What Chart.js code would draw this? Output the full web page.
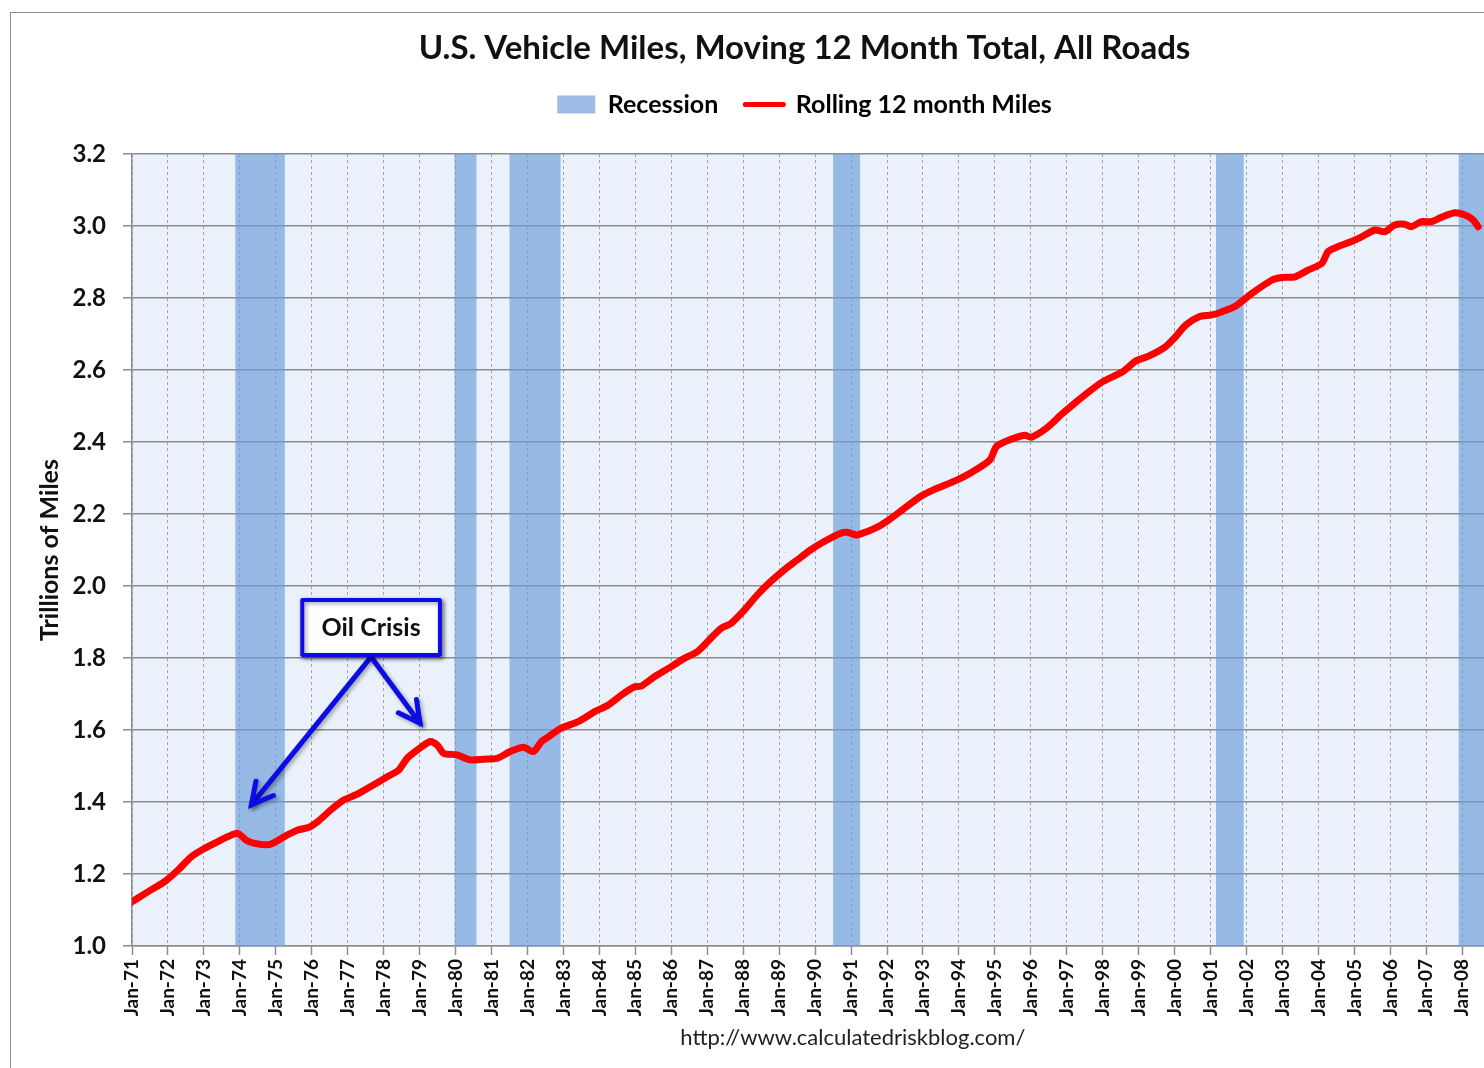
<!DOCTYPE html>
<html><head><meta charset="utf-8">
<script src="https://cdn.jsdelivr.net/npm/chart.js@4.4.1/dist/chart.umd.min.js"></script>
<style>
html,body{margin:0;padding:0;background:#fff;overflow:hidden;width:1484px;height:1068px;}
#frame{position:absolute;left:10px;top:12px;width:1586px;height:1056px;border-left:1px solid #8c8c8c;border-top:1px solid #8c8c8c;}
#c{display:block;}
</style></head><body>
<div id="frame"><canvas id="c" width="1586" height="1056"></canvas></div>
<script>
// ---------- DATA ----------
const chartTitle = 'U.S. Vehicle Miles, Moving 12 Month Total, All Roads';
const seriesNames = ['Recession', 'Rolling 12 month Miles'];
const sourceText = 'http://www.calculatedriskblog.com/';
const yAxisTitle = 'Trillions of Miles';
const yTickValues = [1.0, 1.2, 1.4, 1.6, 1.8, 2.0, 2.2, 2.4, 2.6, 2.8, 3.0, 3.2];
const xTickYears = [1971,1972,1973,1974,1975,1976,1977,1978,1979,1980,1981,1982,1983,1984,1985,1986,1987,1988,1989,1990,1991,1992,1993,1994,1995,1996,1997,1998,1999,2000,2001,2002,2003,2004,2005,2006,2007,2008,2009,2010,2011];
const xTickLabels = ['Jan-71','Jan-72','Jan-73','Jan-74','Jan-75','Jan-76','Jan-77','Jan-78','Jan-79','Jan-80','Jan-81','Jan-82','Jan-83','Jan-84','Jan-85','Jan-86','Jan-87','Jan-88','Jan-89','Jan-90','Jan-91','Jan-92','Jan-93','Jan-94','Jan-95','Jan-96','Jan-97','Jan-98','Jan-99','Jan-00','Jan-01','Jan-02','Jan-03','Jan-04','Jan-05','Jan-06','Jan-07','Jan-08','Jan-09','Jan-10','Jan-11'];

// recession periods (decimal years)
const recessionStart = [1973.87, 1979.97, 1981.50, 1990.50, 2001.15, 2007.90];
const recessionEnd   = [1975.25, 1980.58, 1982.92, 1991.25, 2001.92, 2009.50];

// rolling 12 month vehicle miles (trillions)
const milesYears = [1971.00,1971.45,1971.91,1972.28,1972.65,1973.02,1973.39,1973.67,1973.94,1974.18,1974.41,1974.78,1974.91,1975.24,1975.61,1975.93,1976.16,1976.53,1976.90,1977.27,1977.64,1978.10,1978.42,1978.65,1978.93,1979.30,1979.49,1979.67,1980.04,1980.41,1980.78,1981.15,1981.52,1981.89,1982.16,1982.39,1982.58,1982.94,1983.41,1983.87,1984.24,1984.61,1984.98,1985.16,1985.53,1986.00,1986.36,1986.73,1987.10,1987.38,1987.66,1988.03,1988.39,1988.76,1989.13,1989.50,1989.87,1990.24,1990.70,1990.89,1991.17,1991.44,1991.81,1992.00,1992.37,1992.92,1993.29,1993.94,1994.31,1994.86,1995.04,1995.41,1995.83,1996.01,1996.43,1996.89,1997.44,1997.99,1998.55,1998.92,1999.29,1999.75,2000.03,2000.31,2000.68,2001.04,2001.32,2001.70,2002.15,2002.71,2002.98,2003.35,2003.72,2004.09,2004.27,2004.55,2004.92,2005.20,2005.57,2005.84,2006.12,2006.40,2006.58,2006.86,2007.14,2007.41,2007.79,2008.06,2008.30,2008.44];
const milesValues = [1.123,1.151,1.179,1.211,1.248,1.271,1.290,1.304,1.313,1.294,1.285,1.281,1.285,1.304,1.322,1.330,1.345,1.378,1.406,1.422,1.443,1.470,1.489,1.521,1.544,1.568,1.558,1.535,1.531,1.517,1.519,1.521,1.540,1.552,1.540,1.568,1.581,1.605,1.623,1.651,1.669,1.697,1.720,1.722,1.748,1.776,1.799,1.818,1.855,1.882,1.896,1.933,1.975,2.012,2.044,2.072,2.100,2.123,2.146,2.149,2.142,2.151,2.168,2.180,2.207,2.248,2.267,2.294,2.313,2.350,2.387,2.406,2.419,2.413,2.438,2.480,2.526,2.567,2.595,2.625,2.639,2.665,2.693,2.725,2.748,2.753,2.762,2.778,2.813,2.850,2.857,2.859,2.878,2.896,2.929,2.943,2.957,2.970,2.989,2.984,3.003,3.005,2.998,3.012,3.012,3.024,3.037,3.031,3.017,2.998];

// annotation (data coordinates)
const oilLabel = 'Oil Crisis';
const oilBoxCorners = [[1975.68, 1.967], [1979.62, 1.803]];
const oilArrowFrom = [1977.65, 1.803];
const oilArrowTips = [[1974.32, 1.392], [1979.01, 1.619]];

// ---------- BUILD ----------
const yMin = yTickValues[0], yMax = yTickValues[yTickValues.length - 1];
const milesPoints = milesYears.map((t, i) => ({x: t, y: milesValues[i]}));
const recessionPoints = [];
recessionStart.forEach((s, i) => {
  recessionPoints.push({x: s, y: yMin}, {x: s, y: yMax}, {x: recessionEnd[i], y: yMax}, {x: recessionEnd[i], y: yMin});
});

const RED = '#ff0000';
const BAND = 'rgba(110,158,220,0.68)';
const FONT = 'Lato';
Chart.defaults.font.family = FONT;
Chart.defaults.color = '#000';

const plotBg = {
  id: 'plotBg',
  beforeDraw(chart) {
    const a = chart.chartArea, ctx = chart.ctx;
    ctx.save(); ctx.fillStyle = '#eaf1fa';
    ctx.fillRect(a.left, a.top, a.right - a.left, a.bottom - a.top);
    ctx.restore();
  }
};
const legendSpacer = {
  id: 'legendSpacer',
  afterInit(chart) {
    const lg = chart.legend; const orig = lg.fit;
    lg.fit = function () { orig.call(this); this.height += 27; };
  }
};
const oilCrisis = {
  id: 'oilCrisis',
  afterDatasetsDraw(chart) {
    const {ctx, scales: {x, y}} = chart;
    const px = p => [x.getPixelForValue(p[0]), y.getPixelForValue(p[1])];
    const [ox, oy] = px(oilArrowFrom);
    ctx.save();
    ctx.shadowColor = 'rgba(0,0,0,0.35)'; ctx.shadowBlur = 4; ctx.shadowOffsetX = 2; ctx.shadowOffsetY = 2;
    ctx.strokeStyle = '#0c0ce6'; ctx.lineWidth = 5; ctx.lineCap = 'round'; ctx.lineJoin = 'miter';
    oilArrowTips.forEach(tp => {
      const [tx, ty] = px(tp);
      const ang = Math.atan2(oy - ty, ox - tx);
      const hl = 24, ha = 28 * Math.PI / 180;
      ctx.beginPath(); ctx.moveTo(ox, oy); ctx.lineTo(tx, ty); ctx.stroke();
      ctx.beginPath();
      ctx.moveTo(tx + hl * Math.cos(ang + ha), ty + hl * Math.sin(ang + ha));
      ctx.lineTo(tx, ty);
      ctx.lineTo(tx + hl * Math.cos(ang - ha), ty + hl * Math.sin(ang - ha));
      ctx.stroke();
    });
    const [bx0, by0] = px(oilBoxCorners[0]);
    const [bx1, by1] = px(oilBoxCorners[1]);
    ctx.fillStyle = '#ffffff';
    ctx.fillRect(bx0, by0, bx1 - bx0, by1 - by0);
    ctx.lineWidth = 4; ctx.lineJoin = 'round';
    ctx.strokeRect(bx0 + 2, by0 + 2, bx1 - bx0 - 4, by1 - by0 - 4);
    ctx.shadowColor = 'transparent';
    ctx.fillStyle = '#111';
    ctx.font = 'bold 25px ' + FONT; ctx.textAlign = 'center'; ctx.textBaseline = 'middle';
    ctx.fillText(oilLabel, (bx0 + bx1) / 2, (by0 + by1) / 2 + 1);
    ctx.restore();
  }
};

new Chart(document.getElementById('c'), {
  type: 'line',
  data: {
    datasets: [
      {label: seriesNames[1], data: milesPoints, borderColor: RED, backgroundColor: RED, borderWidth: 7,
       pointRadius: 0, tension: 0.25, fill: false, borderCapStyle: 'round', borderJoinStyle: 'round'},
      {label: seriesNames[0], data: recessionPoints, borderColor: 'transparent', backgroundColor: BAND,
       borderWidth: 0, pointRadius: 0, tension: 0, fill: 'start'}
    ]
  },
  options: {
    responsive: false, animation: false, devicePixelRatio: 1,
    layout: {padding: {left: 20, right: 19, top: 0, bottom: 10}},
    plugins: {
      title: {display: true, text: chartTitle, color: '#111', font: {size: 33, weight: 'bold', lineHeight: 1.0}, padding: {top: 19, bottom: 0}},
      legend: {
        display: true, position: 'top',
        labels: {
          color: '#111', font: {size: 25, weight: 'bold'}, padding: 27, usePointStyle: true,
          pointStyleWidth: 38, boxHeight: 18,
          generateLabels: () => [
            {text: seriesNames[0], fillStyle: BAND, strokeStyle: BAND, lineWidth: 0, pointStyle: 'rect', datasetIndex: 1},
            {text: seriesNames[1], fillStyle: RED, strokeStyle: RED, lineWidth: 5, lineCap: 'round', pointStyle: 'line', datasetIndex: 0}
          ]
        }
      },
      tooltip: {enabled: false}
    },
    scales: {
      x: {
        type: 'linear', min: xTickYears[0], max: 2011.1,
        afterFit(s) { s.height = 113; },
        afterBuildTicks(s) { s.ticks = xTickYears.map(v => ({value: v})); },
        ticks: {
          autoSkip: false, minRotation: 90, maxRotation: 90, padding: 4, color: '#111',
          font: {size: 19, weight: 'bold'},
          callback: v => { const i = xTickYears.indexOf(v); return i >= 0 ? xTickLabels[i] : ''; }
        },
        grid: {color: '#a4a4a4', lineWidth: 1, tickLength: 9, tickColor: '#8c8c8c', tickWidth: 1.5, tickBorderDash: []},
        border: {display: true, color: '#8c8c8c', width: 1.5, dash: [3, 3]},
        title: {display: true, text: sourceText, color: '#222', font: {size: 22, weight: 'normal'}, padding: {top: 0, bottom: 8}}
      },
      y: {
        type: 'linear', min: yMin, max: yMax,
        afterFit(s) { s.width = 101; },
        afterBuildTicks(s) { s.ticks = yTickValues.map(v => ({value: v})); },
        ticks: {padding: 17, color: '#111', font: {size: 24, weight: 'bold'}, callback: v => v.toFixed(1)},
        grid: {color: '#8c8c8c', lineWidth: 1.5, tickLength: 9, tickColor: '#8c8c8c'},
        border: {display: true, color: '#8c8c8c', width: 1.5},
        title: {display: true, text: yAxisTitle, color: '#111', font: {size: 25, weight: 'bold'}, padding: {top: 4, bottom: 0}}
      }
    }
  },
  plugins: [plotBg, legendSpacer, oilCrisis]
});
</script>
</body></html>
